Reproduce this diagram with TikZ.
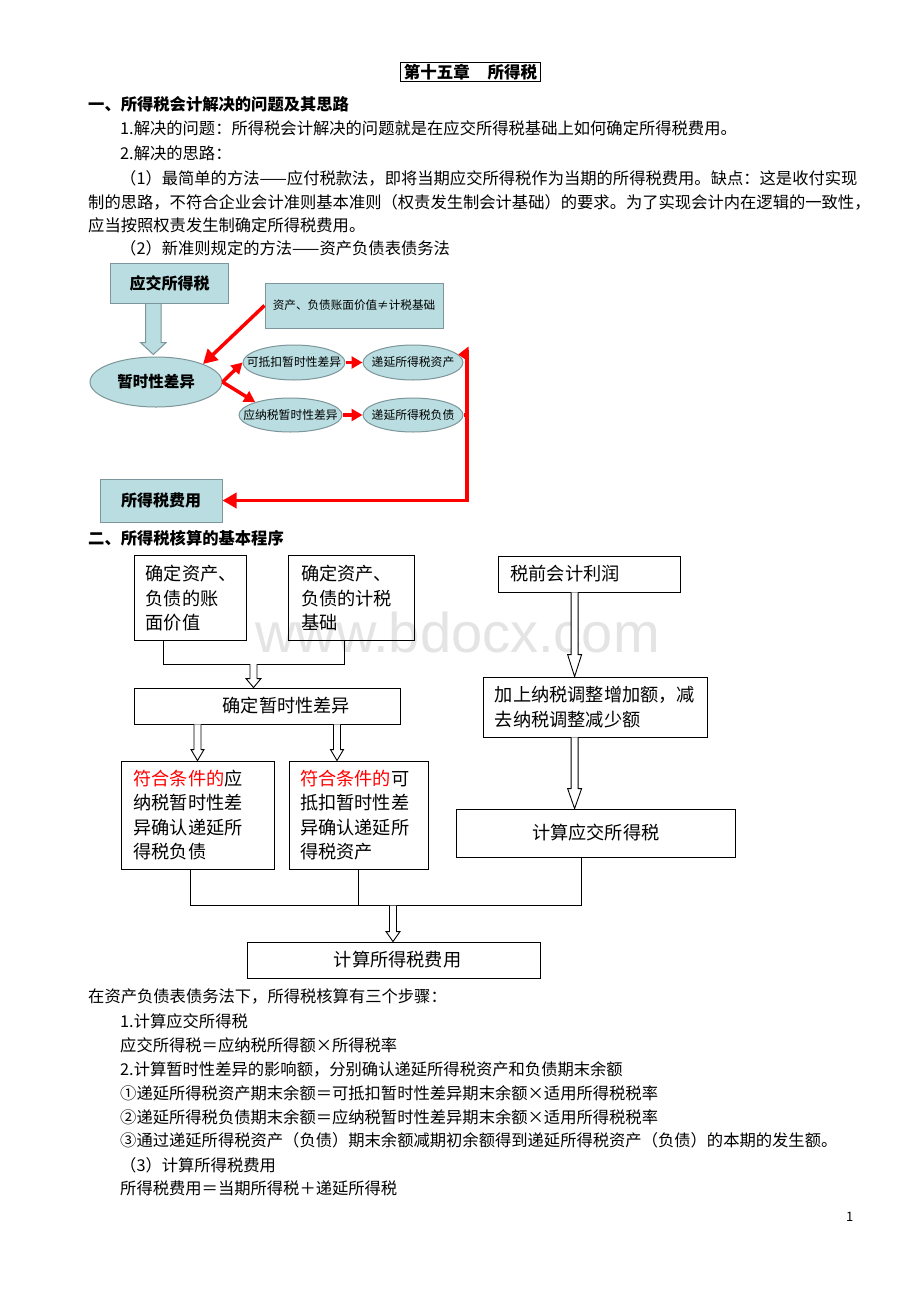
\documentclass[tikz,border=0pt]{standalone}
\usepackage{fontspec}
\setmainfont{Noto Sans CJK SC}
\newfontfamily\wmfont{Liberation Sans}
\usetikzlibrary{arrows.meta,shapes.geometric,calc}
\definecolor{lblue}{RGB}{185,221,224}
\definecolor{lborder}{RGB}{125,150,155}
\definecolor{wmgray}{RGB}{228,228,228}
\newcommand\hollowarr[4]{%
  \draw[line width=0.9pt, fill=white] let \p1=#1, \p2=#2 in
    (\x1-3.5pt,\y1) -- (\x1-3.5pt,\y2+#3pt) -- (\x1-#4pt,\y2+#3pt) -- (\x1,\y2)
    -- (\x1+#4pt,\y2+#3pt) -- (\x1+3.5pt,\y2+#3pt) -- (\x1+3.5pt,\y1);}
\newcommand\justline[2]{{\XeTeXlinebreaklocale "zh"\XeTeXlinebreakskip=0pt plus 3pt\makebox[#1][s]{#2}\XeTeXlinebreaklocale ""\XeTeXlinebreakskip=0pt}}
\tikzset{
  body/.style={anchor=west, inner sep=0pt, font=\fontsize{16.3}{20}\selectfont},
  headtxt/.style={anchor=west, inner sep=0pt, font=\fontsize{16.3}{20}\selectfont\bfseries},
  pbox/.style={draw, line width=0.9pt, inner ysep=0pt, align=left, font=\fontsize{18.2}{24.3}\selectfont},
  lbox/.style={draw=lborder, fill=lblue, line width=1pt, inner sep=0pt},
  lell/.style={ellipse, draw=lborder, fill=lblue, line width=1pt, inner sep=0pt},
  redarr/.style={draw=red, line width=3.5pt, line join=miter, -{Triangle[length=14pt,width=15pt]}},
  redsmall/.style={draw=red, line width=3.5pt, -{Triangle[length=11pt,width=12pt]}},
  redline/.style={draw=red, line width=3.5pt},
  conn/.style={draw, line width=0.9pt},
}
\begin{document}
\begin{tikzpicture}[x=1pt,y=-1pt]
\fill[white] (0,0) rectangle (920,1302);
\useasboundingbox (0,0) rectangle (920,1302);

% watermark
\node[font=\wmfont\fontsize{56}{56}\selectfont, text=wmgray, anchor=base west, inner sep=0pt] (wm) at (255,652) {www.bdocx.com};

% title and text
\node[draw, line width=0.7pt, inner xsep=3.5pt, inner ysep=1.5pt, minimum height=18pt, font=\fontsize{16.5}{17}\selectfont\bfseries] (title) at (470.5,71.7) {第十五章\hspace{18pt}所得税};
\node[headtxt] (h1) at (88,104.5) {一、所得税会计解决的问题及其思路};
\node[body] (t1) at (120,128.5) {1.解决的问题：所得税会计解决的问题就是在应交所得税基础上如何确定所得税费用。};
\node[body] (t2) at (120,153) {2.解决的思路：};
\node[body] (t3) at (120,178) {\justline{737pt}{（1）最简单的方法——应付税款法，即将当期应交所得税作为当期的所得税费用。缺点：这是收付实现}};
\node[body] (t4) at (88,202) {\justline{769pt}{制的思路，不符合企业会计准则基本准则（权责发生制会计基础）的要求。为了实现会计内在逻辑的一致性，}};
\node[body] (t5) at (88,225.5) {应当按照权责发生制确定所得税费用。};
\node[body] (t6) at (120,248.5) {（2）新准则规定的方法——资产负债表债务法};

% diagram 1
\node[lbox, minimum width=118pt, minimum height=40pt, font=\fontsize{16}{16}\selectfont\bfseries] (yj) at (169.5,283.5) {应交所得税};
\node[lbox, minimum width=178pt, minimum height=45pt, font=\fontsize{11.6}{12}\selectfont] (neq) at (354,305.5) {资产、负债账面价值≠计税基础};
\node[lell, minimum width=132pt, minimum height=50pt, font=\fontsize{15.5}{16}\selectfont\bfseries] (zs) at (156,382) {\makebox[0pt]{暂时性差异}};
\node[lell, minimum width=102pt, minimum height=35pt, font=\fontsize{11.8}{12}\selectfont] (kd) at (294,362.5) {\makebox[0pt]{可抵扣暂时性差异}};
\node[lell, minimum width=103pt, minimum height=34pt, font=\fontsize{11.8}{12}\selectfont] (ys) at (290.5,415) {\makebox[0pt]{应纳税暂时性差异}};
\node[lell, minimum width=100pt, minimum height=35pt, font=\fontsize{11.8}{12}\selectfont] (dA) at (413,362.5) {\makebox[0pt]{递延所得税资产}};
\node[lell, minimum width=100pt, minimum height=34pt, font=\fontsize{11.8}{12}\selectfont] (dL) at (413,415) {\makebox[0pt]{递延所得税负债}};
\node[lbox, minimum width=122pt, minimum height=43pt, font=\fontsize{16}{16}\selectfont\bfseries] (fee) at (161,500.5) {所得税费用};

\coordinate (xbig) at (153.3,0);
\draw[draw=lborder, fill=lblue, line width=1pt] let \p1=(xbig |- yj.south), \p2=(xbig |- zs.north) in
  (\x1-7.8pt,\y1) -- (\x1-7.8pt,\y2+14pt) -- (\x1-12.8pt,\y2+14pt) -- (\x1,\y2+2pt)
  -- (\x1+12.8pt,\y2+14pt) -- (\x1+7.8pt,\y2+14pt) -- (\x1+7.8pt,\y1);

\draw[redarr] (neq.west) -- (zs.north east);
\draw[redsmall] (zs.east) -- (kd.west);
\draw[redsmall] (zs.east) -- (ys.160);
\draw[redsmall] (kd.east) -- (dA.west);
\draw[redsmall] (ys.east) -- (dL.west);
\coordinate (rt) at (467,350);
\draw[redarr] (rt) -- (rt |- fee.east) -- (fee.east);
\fill[red] (dA.10) -- ($(dA.10 -| rt)+(1.5,-8)$) -- ($(dA.10 -| rt)+(1.5,7)$) -- cycle;
\draw[redline] (dL.east) -- (dL.east -| rt);

% heading 2
\node[headtxt] (h2) at (88,538) {二、所得税核算的基本程序};

% diagram 2
\node[pbox, minimum width=112pt, minimum height=85pt, text width=94pt, inner xsep=9pt] (A) at (190.75,598.2) {\hspace*{2pt}确定资产、\\\hspace*{2pt}负债的账\\\hspace*{2pt}面价值};
\node[pbox, minimum width=125.5pt, minimum height=85pt, text width=100.5pt, inner xsep=12.5pt] (B) at (351.25,598.2) {确定资产、\\负债的计税\\基础};
\node[pbox, minimum width=182pt, minimum height=36pt, text width=157pt, inner xsep=12.5pt] (C) at (589,574) {税前会计利润};
\node[pbox, minimum width=266pt, minimum height=36pt, text width=246pt, inner xsep=10pt] (D) at (267.6,706) {\hspace*{78pt}确定暂时性差异};
\node[pbox, minimum width=153pt, minimum height=108pt, text width=128pt, inner xsep=12.5pt] (E) at (197.5,815) {\textcolor{red}{符合条件的}应\\纳税暂时性差\\异确认递延所\\得税负债};
\node[pbox, minimum width=139pt, minimum height=108pt, text width=117pt, inner xsep=11pt] (F) at (358.5,815) {\textcolor{red}{符合条件的}可\\抵扣暂时性差\\异确认递延所\\得税资产};
\node[pbox, minimum width=223.4pt, minimum height=60pt, text width=203pt, inner xsep=10.2pt] (G) at (595.3,707) {\hspace*{1pt}加上纳税调整增加额，减\\\hspace*{1pt}去纳税调整减少额};
\node[pbox, minimum width=279.6pt, minimum height=48pt, text width=259.6pt, inner xsep=10pt, align=center] (H) at (595.8,833) {计算应交所得税\hspace*{14pt}};
\node[pbox, minimum width=293pt, minimum height=36pt, text width=273pt, inner xsep=10pt, align=center] (I) at (393.5,960) {\hspace*{8pt}计算所得税费用};

\coordinate (jA) at (163,664);
\coordinate (jB) at (344.6,664);
\coordinate (jAB) at (253.5,664);
\draw[conn] (A.south -| jA) -- (jA) -- (jB) -- (B.south -| jB);
\hollowarr{(jAB)}{(jAB |- D.north)}{9}{7.5}
\coordinate (xDE) at (197.5,0);
\coordinate (xDF) at (337,0);
\hollowarr{(xDE |- D.south)}{(xDE |- E.north)}{11}{6.5}
\hollowarr{(xDF |- D.south)}{(xDF |- F.north)}{11}{6.5}
\coordinate (xCG) at (574.6,0);
\hollowarr{(xCG |- C.south)}{(xCG |- G.north)}{22}{7}
\hollowarr{(xCG |- G.south)}{(xCG |- H.north)}{20}{7}
\coordinate (jE) at (190.8,905.7);
\coordinate (jF) at (358,905.7);
\coordinate (jH) at (581,905.7);
\coordinate (jI) at (393,905.7);
\draw[conn] (E.south -| jE) -- (jE) -- (jH) -- (H.south -| jH);
\draw[conn] (F.south -| jF) -- (jF);
\hollowarr{(jI)}{(jI |- I.north)}{10}{7}

% bottom text
\node[body] (b1) at (88,996.5) {在资产负债表债务法下，所得税核算有三个步骤：};
\node[body] (b2) at (120,1021) {1.计算应交所得税};
\node[body] (b3) at (120,1045) {应交所得税＝应纳税所得额×所得税率};
\node[body] (b4) at (120,1069) {2.计算暂时性差异的影响额，分别确认递延所得税资产和负债期末余额};
\node[body] (b5) at (120,1093) {①递延所得税资产期末余额＝可抵扣暂时性差异期末余额×适用所得税税率};
\node[body] (b6) at (120,1117) {②递延所得税负债期末余额＝应纳税暂时性差异期末余额×适用所得税税率};
\node[body] (b7) at (120,1140.5) {③通过递延所得税资产（负债）期末余额减期初余额得到递延所得税资产（负债）的本期的发生额。};
\node[body] (b8) at (120,1165) {（3）计算所得税费用};
\node[body] (b9) at (120,1188.5) {所得税费用＝当期所得税＋递延所得税};
\node[body, font=\fontsize{13}{13}\selectfont] (pg) at (846,1217) {1};
\end{tikzpicture}
\end{document}
